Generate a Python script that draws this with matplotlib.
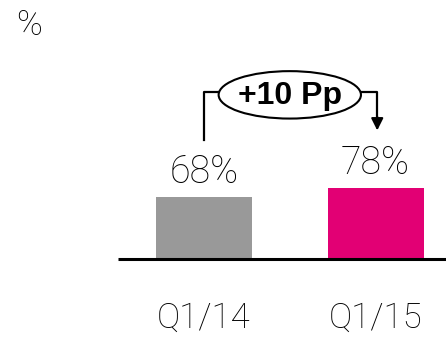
import matplotlib.pyplot as plt
from matplotlib.patches import Ellipse

categories = ['Q1/14', 'Q1/15']
values = [68, 78]
labels = ['68%', '78%']
colors = ['#999999', '#E20074']
delta_label = '+10 Pp'

plt.rcParams['font.family'] = ['Roboto', 'DejaVu Sans']
w = 'light'

fig = plt.figure(figsize=(4.46, 3.38), dpi=100)
ax = fig.add_axes([0, 0, 1, 1])
ax.set_xlim(-1.19, 1.411)
ax.set_ylim(-86.6, 284)
ax.axis('off')

x = range(len(categories))
ax.bar(x, values, width=0.56, color=colors, zorder=2)
ax.plot([-0.5, 1.5], [0, 0], color='black', lw=2.2, solid_capstyle='butt', zorder=3)

for i, v in enumerate(values):
    ax.annotate(labels[i], (i, v), xytext=(0, 10), textcoords='offset points',
                ha='center', va='baseline', fontsize=27, fontweight=w)
    ax.text(i, -65, categories[i], ha='center', va='center', fontsize=25, fontweight=w)

fig.text(0.036, 0.925, '%', ha='left', va='center', fontsize=25, fontweight=w)

# bracket with ellipse
ytop = 183
mid = 0.5
ax.plot([0, 0, mid - 0.4], [130, ytop, ytop], color='black', lw=1.6)
ax.plot([mid + 0.4, 1.01, 1.01], [ytop, ytop, 150], color='black', lw=1.6)
ax.annotate('', xy=(1.01, 141), xytext=(1.01, 156),
            arrowprops=dict(arrowstyle='-|>', color='black', lw=1.5, mutation_scale=18,
                            shrinkA=0, shrinkB=0))
ax.add_patch(Ellipse((mid, 180), 0.83, 52, facecolor='white', edgecolor='black', lw=1.5, zorder=4))
ax.text(mid, 179, delta_label, ha='center', va='center', fontsize=23, fontweight='bold',
        family=['Liberation Sans', 'DejaVu Sans'], zorder=5)

fig.savefig('out.png', dpi=100)
